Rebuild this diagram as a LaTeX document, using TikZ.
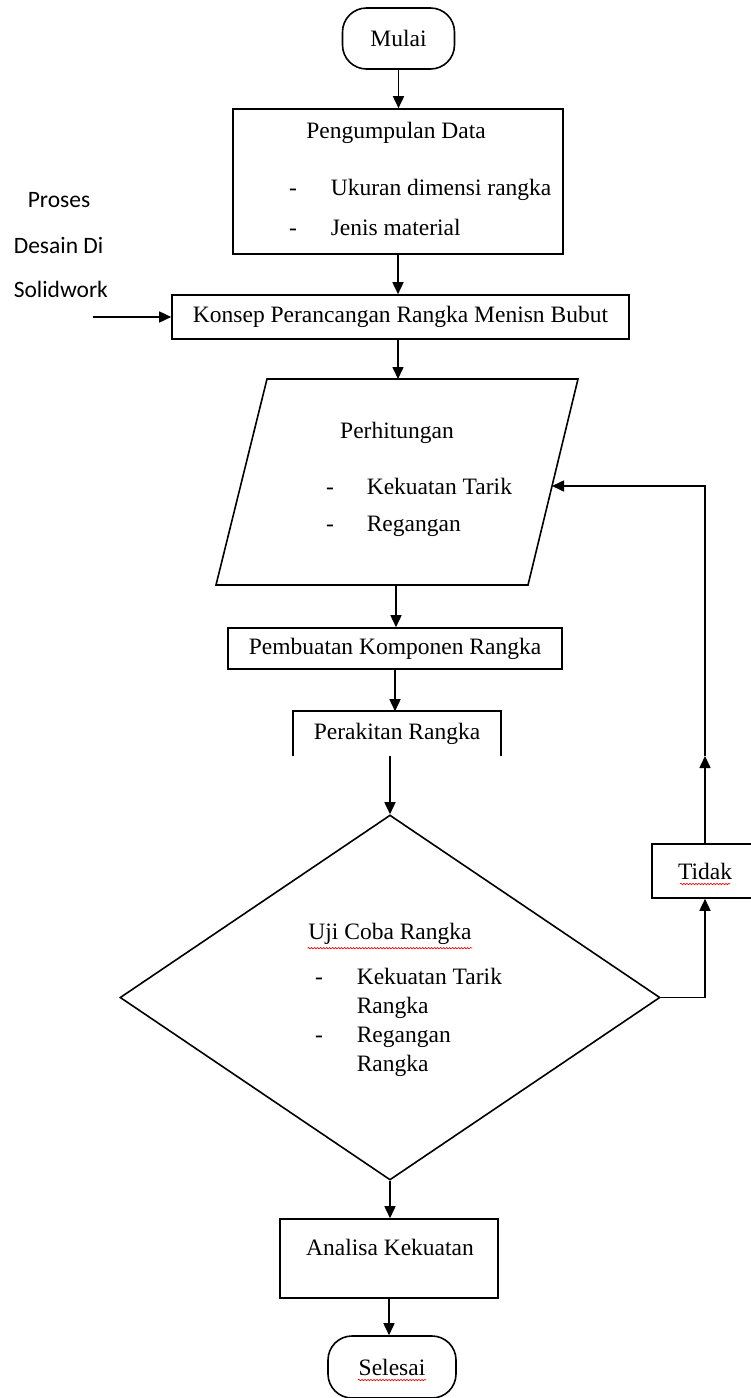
\documentclass[tikz,border=0pt]{standalone}
\usepackage{fontspec}
\setmainfont{Liberation Serif}
\newfontfamily\calib{Carlito}
\usetikzlibrary{shapes.geometric,arrows.meta,decorations.pathmorphing,calc}
\begin{document}
\begin{tikzpicture}[x=1pt,y=-1pt,
  font=\fontsize{23.5}{27}\selectfont,
  line width=1.6pt,
  box/.style={draw, rectangle, inner sep=0pt},
  term/.style={draw, rectangle, rounded corners=24pt, inner sep=0pt},
  arr/.style={-{Triangle[length=12pt,width=11pt]}},
  txt/.style={inner sep=0pt, anchor=mid, yshift=-5pt},
  ltxt/.style={inner sep=0pt, anchor=mid west, yshift=-5pt},
  side/.style={inner sep=0pt, anchor=mid west, yshift=-5pt, font=\calib\fontsize{23.5}{27}\selectfont},
  spell/.style={draw=red, line width=0.6pt, decorate, decoration={snake, amplitude=0.8pt, segment length=3pt}}
]
\useasboundingbox (0,0) rectangle (750,1398);

% nodes
\node[term, minimum width=112pt, minimum height=61pt] (mulai) at (398.5,38.5) {Mulai};

\node[box, minimum width=330pt, minimum height=145pt] (peng) at (398,181.5) {};
\node[txt] (tpeng) at (396,131) {Pengumpulan Data};
\node[txt] (d1) at (293,188) {-};
\node[ltxt] (t1) at (330,188) {Ukuran dimensi rangka};
\node[txt] (d2) at (293,228) {-};
\node[ltxt] (t2) at (330,228) {Jenis material};

\node[side] (s1) at (27,200) {Proses};
\node[side] (s2) at (13,246) {Desain Di};
\node[side] (s3) at (13,290) {Solidwork};

\node[box, minimum width=457pt, minimum height=44pt] (konsep) at (400.5,317) {Konsep Perancangan Rangka Menisn Bubut};

% parallelogram (Perhitungan)
\coordinate (pA) at (267,379);
\coordinate (pB) at (578,379);
\coordinate (pC) at (528,585);
\coordinate (pD) at (216,585);
\draw (pA) -- (pB) -- (pC) -- (pD) -- cycle;
\coordinate (perhN) at (398,379);
\coordinate (perhS) at (396,585);
\coordinate (perhE) at (552,486);
\node[txt] (tperh) at (397,431) {Perhitungan};
\node[txt] (d3) at (330,487) {-};
\node[ltxt] (t3) at (366,487) {Kekuatan Tarik};
\node[txt] (d4) at (330,524) {-};
\node[ltxt] (t4) at (366,524) {Regangan};

\node[box, minimum width=334pt, minimum height=41pt] (pemb) at (395,648.5) {\raisebox{-3pt}{Pembuatan Komponen Rangka}};

\node[inner sep=0pt, minimum width=206pt, minimum height=43pt] (perak) at (397,733.5) {Perakitan Rangka};
\draw (perak.south west) -- (perak.north west) -- (perak.north east) -- (perak.south east);

\node[draw, diamond, minimum width=540pt, minimum height=365pt, inner sep=0pt] (uji) at (390,997.5) {};
\node[txt] (tuji) at (390,932) {Uji Coba Rangka};
\node[txt] (d5) at (319,977) {-};
\node[ltxt] (t5) at (356,977) {Kekuatan Tarik};
\node[ltxt] (t6) at (356,1006) {Rangka};
\node[txt] (d6) at (319,1035) {-};
\node[ltxt] (t7) at (356,1035) {Regangan};
\node[ltxt] (t8) at (356,1064) {Rangka};

\node[box, minimum width=106pt, minimum height=54pt] (tidak) at (705,871) {Tidak};

\node[box, minimum width=218pt, minimum height=79pt] (anal) at (389,1258.5) {};
\node[txt] (tanal) at (390,1248) {Analisa Kekuatan};

\node[term, minimum width=128pt, minimum height=62pt] (selesai) at (392,1367) {Selesai};

% spelling marks
\draw[spell] ($(tuji.south west)+(0,3)$) -- ($(tuji.south east)+(0,3)$);
\draw[spell] ($(tidak.center)+(-25,13)$) -- ($(tidak.center)+(25,13)$);
\draw[spell] ($(selesai.center)+(-34,13)$) -- ($(selesai.center)+(34,13)$);

% connectors
\draw[arr] (mulai.south) -- (mulai.south |- peng.north);
\draw[arr] (peng.south) -- (peng.south |- konsep.north);
\coordinate (pin) at (93,317);
\draw[arr] (pin) -- (konsep.west);
\draw[arr] (perhN |- konsep.south) -- (perhN);
\draw[arr] (perhS) -- (perhS |- pemb.north);
\draw[arr] (pemb.south) -- (pemb.south |- perak.north);
\draw[arr] (uji.north |- perak.south) -- (uji.north);
\draw[arr] (uji.east) -| (tidak.south);
\coordinate (mid) at (705,756);
\draw[arr] (tidak.north) -- (mid);
\draw[arr] (mid) |- (perhE);
\draw[arr] (uji.south) -- (uji.south |- anal.north);
\draw[arr] (anal.south) -- (anal.south |- selesai.north);
\end{tikzpicture}
\end{document}
